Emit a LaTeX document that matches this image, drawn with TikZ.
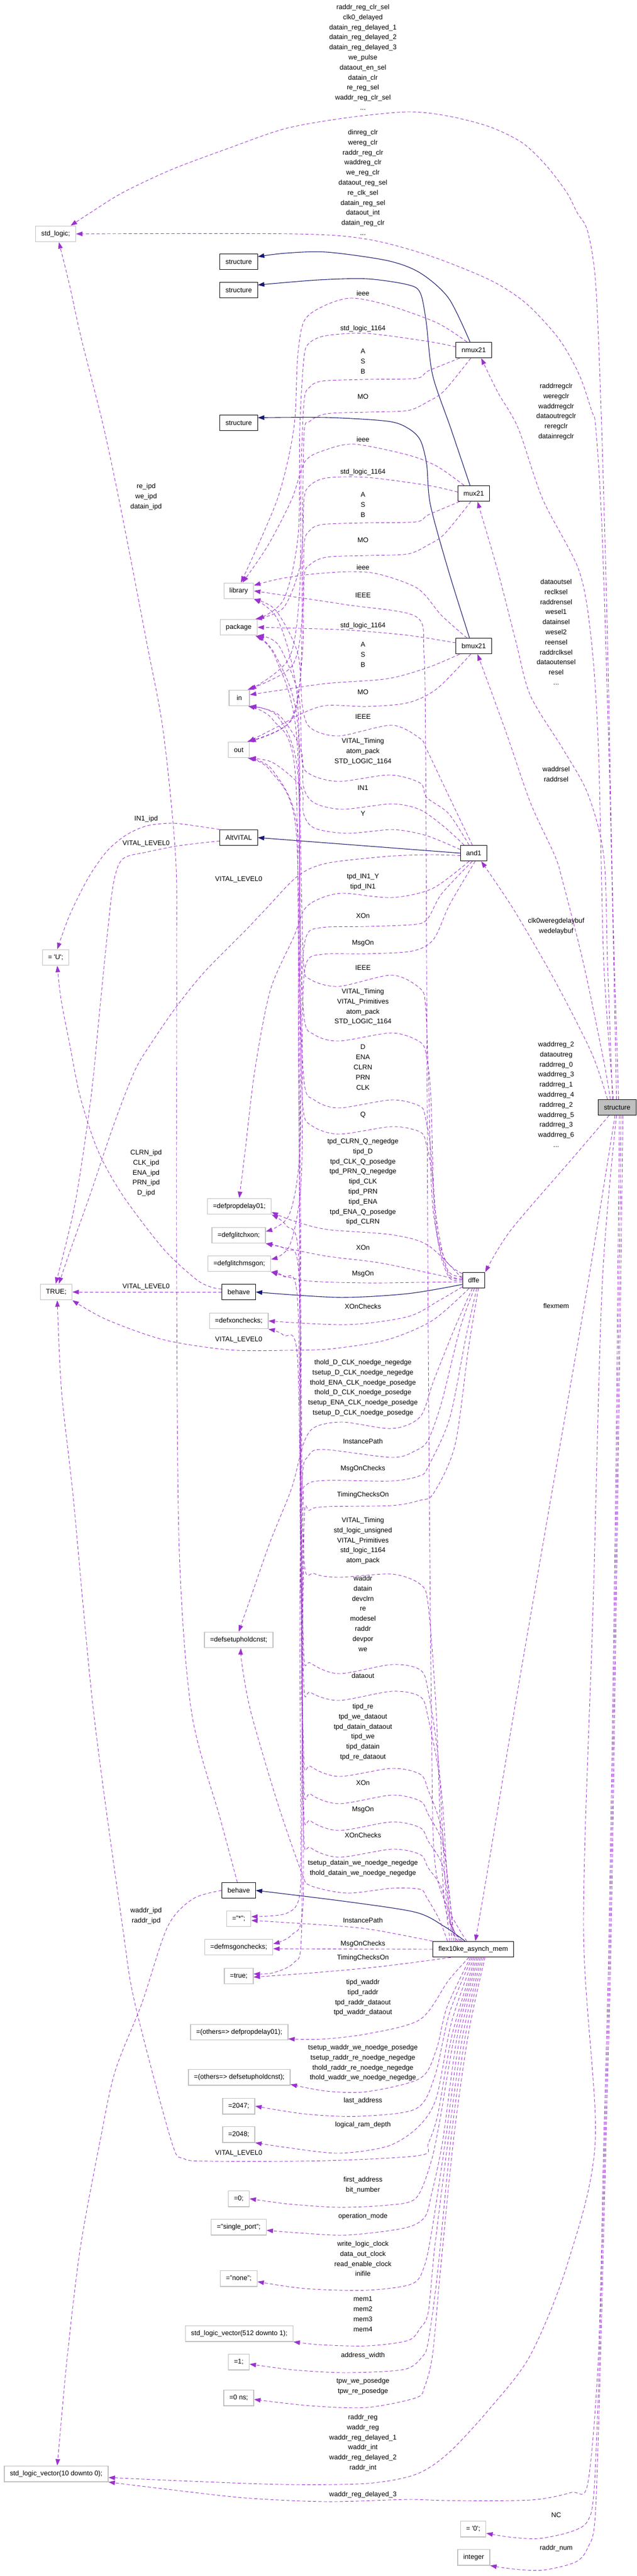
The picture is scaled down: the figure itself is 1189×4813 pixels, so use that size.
\documentclass[tikz,border=0pt]{standalone}
\usepackage{fontspec}
\setmainfont{Liberation Sans}
\usetikzlibrary{arrows.meta}

\definecolor{usecolor}{HTML}{9A32CD}
\definecolor{inhcolor}{HTML}{191970}
\definecolor{undocgray}{HTML}{BFBFBF}

\tikzset{
  every node/.style={font=\fontsize{12.7}{18.8}\selectfont},
  cls/.style={draw=black,fill=white,line width=1pt,minimum height=29.5pt,minimum width=38pt,inner xsep=10.5pt,inner ysep=0pt},
  val/.style={cls,draw=undocgray,line width=1.4pt},
  cur/.style={cls,fill=undocgray},
  elab/.style={align=center,inner sep=0pt,anchor=north,execute at begin node={\rule{0pt}{9.5pt}}},
  dep/.style={usecolor,line width=.9pt,dash pattern=on 6pt off 4pt,-{Triangle[length=12pt,width=8.5pt]}},
  inh/.style={inhcolor,line width=1.1pt,-{Triangle[length=12pt,width=8.5pt]}},
}

\begin{document}
\begin{tikzpicture}[x=1pt,y=-1pt]
  \useasboundingbox (0,0) rectangle (1189,4813);

  % boxes
  \node[val] (std) at (104,437) {std\_logic;};
  \node[cls] (str1) at (446,489) {structure};
  \node[cls] (str2) at (446,542) {structure};
  \node[cls] (nmux) at (885,654) {nmux21};
  \node[cls] (str3) at (446,790) {structure};
  \node[cls] (mux) at (885,922) {mux21};
  \node[val] (lib) at (446,1104) {library};
  \node[val] (pkg) at (446,1172) {package};
  \node[cls] (bmux) at (885,1207) {bmux21};
  \node[val] (portin) at (447,1304) {in};
  \node[val] (portout) at (446,1401) {out};
  \node[cls] (altv) at (446,1565) {AltVITAL};
  \node[cls] (andone) at (885,1594) {and1};
  \node[val] (uval) at (104,1789) {= \textquotesingle U\textquotesingle;};
  \node[cur] (main) at (1153,2069) {structure};
  \node[val] (dprop) at (447,2254) {=defpropdelay01;};
  \node[val] (dgx) at (446,2308) {=defglitchxon;};
  \node[val] (dgm) at (447,2361) {=defglitchmsgon;};
  \node[cls] (dffe) at (885,2392) {dffe};
  \node[val] (truev) at (105,2414) {TRUE;};
  \node[cls] (beh1) at (446,2414) {behave};
  \node[val] (dxc) at (446,2468) {=defxonchecks;};
  \node[val] (dsh) at (446,3064) {=defsetupholdcnst;};
  \node[cls] (beh2) at (446,3532) {behave};
  \node[val] (star) at (446,3585) {="*";};
  \node[val] (dmc) at (446,3638) {=defmsgonchecks;};
  \node[cls] (flex) at (884,3642) {flex10ke\_asynch\_mem};
  \node[val] (trueb) at (446,3692) {=true;};
  \node[val] (opd) at (447,3797) {=(others=> defpropdelay01);};
  \node[val] (osh) at (447,3881) {=(others=> defsetupholdcnst);};
  \node[val] (lastaddr) at (446,3935) {=2047;};
  \node[val] (ramdepth) at (446,3988) {=2048;};
  \node[val] (zero) at (446,4108) {=0;};
  \node[val] (sport) at (446,4161) {="single\_port";};
  \node[val] (none) at (446,4257) {="none";};
  \node[val] (slvbig) at (447,4360) {std\_logic\_vector(512 downto 1);};
  \node[val] (one) at (446,4413) {=1;};
  \node[val] (zerons) at (446,4480) {=0 ns;};
  \node[val] (slvten) at (105,4622) {std\_logic\_vector(10 downto 0);};
  \node[val] (zchar) at (884,4725) {= \textquotesingle 0\textquotesingle;};
  \node[val] (intg) at (885,4778) {integer};

  % labels
  \node[elab] (lsa) at (678,8) {raddr\_reg\_clr\_sel\\clk0\_delayed\\datain\_reg\_delayed\_1\\datain\_reg\_delayed\_2\\datain\_reg\_delayed\_3\\we\_pulse\\dataout\_en\_sel\\datain\_clr\\re\_reg\_sel\\waddr\_reg\_clr\_sel\\...};
  \node[elab] (lsb) at (678,242) {dinreg\_clr\\wereg\_clr\\raddr\_reg\_clr\\waddreg\_clr\\we\_reg\_clr\\dataout\_reg\_sel\\re\_clk\_sel\\datain\_reg\_sel\\dataout\_int\\datain\_reg\_clr\\...};
  \node[elab] (lnlib) at (678,543) {ieee};
  \node[elab] (lnpkg) at (678,608) {std\_logic\_1164};
  \node[elab] (lnin) at (678,652) {A\\S\\B};
  \node[elab] (lnout) at (678,736) {MO};
  \node[elab] (lmlib) at (678,816) {ieee};
  \node[elab] (lmpkg) at (678,876) {std\_logic\_1164};
  \node[elab] (lmin) at (678,920) {A\\S\\B};
  \node[elab] (lmout) at (678,1004) {MO};
  \node[elab] (lblib) at (678,1055) {ieee};
  \node[elab] (lflib) at (678,1107) {IEEE};
  \node[elab] (lbpkg) at (678,1163) {std\_logic\_1164};
  \node[elab] (lbin) at (678,1200) {A\\S\\B};
  \node[elab] (lbout) at (678,1288) {MO};
  \node[elab] (lalib) at (678,1334) {IEEE};
  \node[elab] (lapkg) at (678,1379) {VITAL\_Timing\\atom\_pack\\STD\_LOGIC\_1164};
  \node[elab] (lain) at (678,1467) {IN1};
  \node[elab] (laout) at (678,1515) {Y};
  \node[elab] (laprop) at (678,1632) {tpd\_IN1\_Y\\tipd\_IN1};
  \node[elab] (lagx) at (678,1706) {XOn};
  \node[elab] (lagm) at (678,1756) {MsgOn};
  \node[elab] (ldlib) at (678,1803) {IEEE};
  \node[elab] (ldpkg) at (678,1847) {VITAL\_Timing\\VITAL\_Primitives\\atom\_pack\\STD\_LOGIC\_1164};
  \node[elab] (ldin) at (678,1952) {D\\ENA\\CLRN\\PRN\\CLK};
  \node[elab] (ldout) at (678,2077) {Q};
  \node[elab] (ldprop) at (678,2127) {tpd\_CLRN\_Q\_negedge\\tipd\_D\\tpd\_CLK\_Q\_posedge\\tpd\_PRN\_Q\_negedge\\tipd\_CLK\\tipd\_PRN\\tipd\_ENA\\tpd\_ENA\_Q\_posedge\\tipd\_CLRN};
  \node[elab] (ldgx) at (678,2326) {XOn};
  \node[elab] (ldgm) at (678,2374) {MsgOn};
  \node[elab] (ldxc) at (678,2436) {XOnChecks};
  \node[elab] (ldsh) at (678,2540) {thold\_D\_CLK\_noedge\_negedge\\tsetup\_D\_CLK\_noedge\_negedge\\thold\_ENA\_CLK\_noedge\_posedge\\thold\_D\_CLK\_noedge\_posedge\\tsetup\_ENA\_CLK\_noedge\_posedge\\tsetup\_D\_CLK\_noedge\_posedge};
  \node[elab] (ldstar) at (678,2688) {InstancePath};
  \node[elab] (ldmc) at (678,2738) {MsgOnChecks};
  \node[elab] (ldtc) at (678,2787) {TimingChecksOn};
  \node[elab] (lfpkg) at (678,2835) {VITAL\_Timing\\std\_logic\_unsigned\\VITAL\_Primitives\\std\_logic\_1164\\atom\_pack};
  \node[elab] (lfin) at (678,2944) {waddr\\datain\\devclrn\\re\\modesel\\raddr\\devpor\\we};
  \node[elab] (lfout) at (678,3126) {dataout};
  \node[elab] (lfprop) at (678,3183) {tipd\_re\\tpd\_we\_dataout\\tpd\_datain\_dataout\\tipd\_we\\tipd\_datain\\tpd\_re\_dataout};
  \node[elab] (lfgx) at (678,3326) {XOn};
  \node[elab] (lfgm) at (678,3375) {MsgOn};
  \node[elab] (lfxc) at (678,3424) {XOnChecks};
  \node[elab] (lfsh) at (678,3475) {tsetup\_datain\_we\_noedge\_negedge\\thold\_datain\_we\_noedge\_negedge};
  \node[elab] (lfstar) at (678,3583) {InstancePath};
  \node[elab] (lfmc) at (678,3626) {MsgOnChecks};
  \node[elab] (lftc) at (678,3652) {TimingChecksOn};
  \node[elab] (lfopd) at (678,3698) {tipd\_waddr\\tipd\_raddr\\tpd\_raddr\_dataout\\tpd\_waddr\_dataout};
  \node[elab] (lfosh) at (678,3820) {tsetup\_waddr\_we\_noedge\_posedge\\tsetup\_raddr\_re\_noedge\_negedge\\thold\_raddr\_re\_noedge\_negedge\\thold\_waddr\_we\_noedge\_negedge};
  \node[elab] (lflast) at (678,3919) {last\_address};
  \node[elab] (lfdepth) at (678,3964) {logical\_ram\_depth};
  \node[elab] (lfzero) at (678,4067) {first\_address\\bit\_number};
  \node[elab] (lfmode) at (678,4135) {operation\_mode};
  \node[elab] (lfnone) at (678,4187) {write\_logic\_clock\\data\_out\_clock\\read\_enable\_clock\\inifile};
  \node[elab] (lfmem) at (678,4291) {mem1\\mem2\\mem3\\mem4};
  \node[elab] (lfone) at (678,4395) {address\_width};
  \node[elab] (lftpw) at (678,4443) {tpw\_we\_posedge\\tpw\_re\_posedge};
  \node[elab] (lsreg) at (678,4511) {raddr\_reg\\waddr\_reg\\waddr\_reg\_delayed\_1\\waddr\_int\\waddr\_reg\_delayed\_2\\raddr\_int};
  \node[elab] (lsdel) at (678,4655) {waddr\_reg\_delayed\_3};
  \node[elab] (latrue) at (446,1637) {VITAL\_LEVEL0};
  \node[elab] (ldtrue) at (446,2497) {VITAL\_LEVEL0};
  \node[elab] (lftrue) at (446,4017) {VITAL\_LEVEL0};
  \node[elab] (lbstd) at (273,903) {re\_ipd\\we\_ipd\\datain\_ipd};
  \node[elab] (lvu) at (273,1524) {IN1\_ipd};
  \node[elab] (lvtrue) at (273,1570) {VITAL\_LEVEL0};
  \node[elab] (lbu) at (273,2148) {CLRN\_ipd\\CLK\_ipd\\ENA\_ipd\\PRN\_ipd\\D\_ipd};
  \node[elab] (lbtrue) at (273,2398) {VITAL\_LEVEL0};
  \node[elab] (lbslv) at (273,3564) {waddr\_ipd\\raddr\_ipd};
  \node[elab] (lsnmux) at (1039,716) {raddrregclr\\weregclr\\waddrregclr\\dataoutregclr\\reregclr\\datainregclr};
  \node[elab] (lsmux) at (1039,1082) {dataoutsel\\reclksel\\raddrensel\\wesel1\\datainsel\\wesel2\\reensel\\raddrclksel\\dataoutensel\\resel\\...};
  \node[elab] (lsbmux) at (1039,1432) {waddrsel\\raddrsel};
  \node[elab] (lsand) at (1039,1715) {clk0weregdelaybuf\\wedelaybuf};
  \node[elab] (lsdffe) at (1039,1946) {waddrreg\_2\\dataoutreg\\raddrreg\_0\\waddrreg\_3\\raddrreg\_1\\waddrreg\_4\\raddrreg\_2\\waddrreg\_5\\raddrreg\_3\\waddrreg\_6\\...};
  \node[elab] (lsflex) at (1039,2435) {flexmem};
  \node[elab] (lsnc) at (1039,4694) {NC};
  \node[elab] (lsnum) at (1039,4755) {raddr\_num};

  % inheritance
  \draw[inh] plot[smooth] coordinates {([xshift=-7pt]nmux.north) (838,557) (785,510) (724,487) (610,471) (534,473) (str1.15)};
  \draw[inh] plot[smooth] coordinates {([xshift=-7pt]mux.north) (842,800) (808,700) (796,600) (785,547) (762,532) (686,521) (595,523) (str2.15)};
  \draw[inh] plot[smooth] coordinates {([xshift=-8pt]bmux.north) (838,1067) (804,943) (797,867) (785,822) (762,800) (724,787) (610,780) (str3.15)};
  \draw[inh] (andone.west) -- (altv.east);
  \draw[inh] plot[smooth] coordinates {(dffe.-160) (762,2417) (633,2424) (beh1.east)};
  \draw[inh] plot[smooth] coordinates {(flex.135) (831,3600) (777,3573) (648,3553) (beh2.east)};

  % structure
  \draw[dep] plot[smooth] coordinates {(main.80) (1145,1700) (1135,1200) (1124,800) (1113,533) (1098,433) (1078,397) (1059,360) (1021,310) (976,267) (915,237) (838,217) (762,209) (648,220) (534,240) (427,277) (320,317) (229,360) (168,398) ([xshift=-10pt]std.north east)};
  \draw[dep] plot[smooth] coordinates {(main.95) (1140,1500) (1125,1000) (1113,800) (1105,767) (1082,700) (1044,633) (983,567) (915,523) (800,477) (686,447) (550,437) (std.east)};
  \draw[dep] plot[smooth] coordinates {(main.115) (1128,1800) (1118,1400) (1105,1200) (1082,1067) (1014,933) (968,800) (930,733) ([xshift=14pt]nmux.south)};
  \draw[dep] plot[smooth] coordinates {(main.120) (1135,1800) (1128,1600) (1098,1483) (1052,1400) (991,1300) (964,1200) (930,1067) ([xshift=7pt]mux.south)};
  \draw[dep] plot[smooth] coordinates {(main.130) (1128,1983) (1090,1800) (1052,1650) (1037,1600) (991,1500) (945,1367) ([xshift=7pt]bmux.south)};
  \draw[dep] plot[smooth] coordinates {(main.140) (1105,1967) (1037,1833) (960,1700) ([xshift=14pt]andone.south)};
  \draw[dep] plot[smooth] coordinates {(main.-135) (1067,2167) (953,2300) (dffe.north east)};
  \draw[dep] plot[smooth] coordinates {(main.-105) (1098,2400) (1029,2800) (960,3200) (910,3500) ([xshift=4pt]flex.north)};
  \draw[dep] plot[smooth] coordinates {(main.-95) (1125,2400) (1108,3000) (1090,3600) (1112,4000) (1060,4230) (991,4400) (915,4500) (838,4583) (777,4623) (686,4640) (533,4642) (360,4636) ([yshift=-7pt]slvten.east)};
  \draw[dep] plot[smooth] coordinates {(main.-75) (1150,2800) (1138,3600) (1128,4000) (1118,4400) (1098,4640) (1067,4657) (991,4671) (838,4672) (762,4670) (610,4674) (457,4667) (305,4650) (slvten.south east)};
  \draw[dep] plot[smooth] coordinates {(main.-65) (1152,2800) (1140,3600) (1130,4000) (1120,4400) (1110,4650) (1098,4710) (1067,4730) (1006,4743) (950,4740) ([yshift=-8pt]zchar.east)};
  \draw[dep] plot[smooth] coordinates {(main.-55) (1154,2800) (1142,3600) (1132,4000) (1122,4400) (1112,4700) (1098,4760) (1075,4787) (1014,4802) (960,4800) (intg.south east)};

  % nmux21, mux21, bmux21
  \draw[dep] plot[smooth] coordinates {(nmux.130) (816,603) (724,570) (655,557) (602,573) (568,600) (556,667) (549,800) (518,933) ([xshift=4pt]lib.north)};
  \draw[dep] plot[smooth] coordinates {(nmux.170) (800,638) (686,623) (610,627) (579,640) (568,667) (560,800) (557,1000) (530,1120) (pkg.north east)};
  \draw[dep] plot[smooth] coordinates {(nmux.-150) (800,693) (777,707) (678,709) (602,712) (579,723) (568,750) (562,900) (560,1100) (540,1230) (portin.north east)};
  \draw[dep] plot[smooth] coordinates {(nmux.-110) (830,730) (800,750) (762,767) (686,770) (610,773) (579,787) (568,810) (565,1000) (562,1250) (540,1350) (portout.north east)};
  \draw[dep] plot[smooth] coordinates {(mux.140) (816,871) (762,850) (663,830) (610,840) (570,862) (545,933) (500,1020) ([xshift=7pt]lib.north)};
  \draw[dep] plot[smooth] coordinates {(mux.175) (800,907) (686,892) (610,893) (579,907) (568,933) (562,1050) (530,1135) ([xshift=-4pt]pkg.north east)};
  \draw[dep] plot[smooth] coordinates {(mux.-150) (800,962) (777,975) (678,977) (602,980) (579,991) (568,1018) (565,1150) (545,1245) ([xshift=-4pt]portin.north east)};
  \draw[dep] plot[smooth] coordinates {(mux.-110) (830,998) (800,1018) (762,1035) (686,1038) (610,1041) (579,1055) (568,1080) (565,1220) (545,1345) ([xshift=-4pt]portout.north east)};
  \draw[dep] plot[smooth] coordinates {(bmux.130) (825,1150) (781,1100) (709,1073) (655,1068) (580,1073) (520,1082) (lib.20)};
  \draw[dep] plot[smooth] coordinates {(bmux.170) (762,1187) (648,1177) (560,1174) (pkg.east)};
  \draw[dep] plot[smooth] coordinates {(bmux.-150) (800,1247) (724,1268) (610,1277) (520,1290) ([yshift=6pt]portin.east)};
  \draw[dep] plot[smooth] coordinates {(bmux.-110) (816,1287) (762,1313) (686,1320) (610,1318) (564,1333) (520,1357) ([xshift=-2pt]portout.north east)};

  % and1, AltVITAL
  \draw[dep] plot[smooth] coordinates {(andone.100) (835,1480) (797,1400) (785,1380) (732,1355) (633,1375) (580,1360) (565,1320) (556,1220) (515,1140) (lib.south east)};
  \draw[dep] plot[smooth] coordinates {(andone.120) (838,1520) (797,1490) (785,1463) (728,1448) (633,1460) (580,1447) (564,1420) (558,1300) (520,1205) (pkg.south east)};
  \draw[dep] plot[smooth] coordinates {(andone.140) (830,1545) (785,1513) (732,1502) (640,1512) (587,1500) (567,1470) (562,1400) (520,1335) (portin.south east)};
  \draw[dep] plot[smooth] coordinates {(andone.165) (820,1570) (785,1558) (732,1550) (648,1557) (587,1547) (567,1520) (562,1470) (510,1425) (portout.south east)};
  \draw[dep] plot[smooth] coordinates {(andone.-170) (800,1597) (724,1600) (610,1613) (556,1637) (495,1700) (457,1740) (381,1817) (328,1883) (282,1950) (252,2000) (213,2100) (168,2233) (130,2340) ([xshift=5pt]truev.north)};
  \draw[dep] plot[smooth] coordinates {(andone.-120) (808,1660) (732,1677) (640,1669) (595,1680) (568,1700) (549,1750) (505,1850) (476,2000) (458,2150) (dprop.north)};
  \draw[dep] plot[smooth] coordinates {(andone.-100) (825,1670) (800,1715) (777,1727) (686,1731) (602,1733) (572,1750) (563,1850) (560,2150) (540,2270) ([yshift=7pt]dgx.east)};
  \draw[dep] plot[smooth] coordinates {(andone.-80) (840,1690) (810,1755) (770,1777) (686,1782) (602,1783) (572,1800) (565,1900) (563,2200) (542,2325) ([yshift=8pt]dgm.east)};
  \draw[dep] plot[smooth] coordinates {(altv.north west) (358,1542) (320,1538) (274,1543) (236,1560) (200,1590) (165,1640) (130,1710) ([xshift=3pt]uval.north)};
  \draw[dep] plot[smooth] coordinates {(altv.-170) (335,1580) (274,1592) (229,1605) (212,1650) (200,1750) (185,1900) (170,2050) (140,2250) ([xshift=-1pt]truev.north)};

  % dffe, behave
  \draw[dep] plot[smooth] coordinates {(dffe.150) (830,2350) (808,2250) (800,2000) (795,1880) (785,1847) (732,1822) (633,1843) (580,1830) (567,1800) (562,1600) (555,1300) (520,1160) (lib.south east)};
  \draw[dep] plot[smooth] coordinates {(dffe.160) (835,2370) (812,2250) (805,2050) (797,1975) (785,1947) (732,1930) (633,1945) (587,1933) (568,1900) (560,1700) (556,1350) (515,1225) (pkg.south east)};
  \draw[dep] plot[smooth] coordinates {(dffe.168) (838,2380) (815,2300) (805,2150) (795,2090) (785,2067) (732,2055) (633,2070) (587,2055) (568,2020) (559,1800) (557,1450) (520,1340) (portin.south east)};
  \draw[dep] plot[smooth] coordinates {(dffe.175) (840,2388) (820,2330) (808,2200) (797,2140) (785,2115) (732,2105) (633,2119) (582,2103) (566,2070) (561,1900) (556,1550) (510,1440) (portout.south east)};
  \draw[dep] plot[smooth] coordinates {(dffe.172) (800,2327) (732,2307) (610,2297) (545,2280) (dprop.-10)};
  \draw[dep] plot[smooth] coordinates {(dffe.west) (762,2370) (700,2358) (610,2347) (540,2333) (dgx.south east)};
  \draw[dep] plot[smooth] coordinates {(dffe.-172) (780,2396) (686,2397) (572,2393) (dgm.south east)};
  \draw[dep] plot[smooth] coordinates {(dffe.-150) (820,2430) (762,2460) (648,2475) (dxc.east)};
  \draw[dep] plot[smooth] coordinates {(dffe.-120) (808,2467) (724,2503) (620,2520) (534,2523) (427,2522) (305,2503) (198,2465) (truev.south east)};
  \draw[dep] plot[smooth] coordinates {(dffe.-100) (850,2480) (810,2580) (785,2647) (732,2669) (640,2657) (587,2667) (566,2700) (545,2780) (505,2880) (470,2980) (dsh.north)};
  \draw[dep] plot[smooth] coordinates {(dffe.-85) (860,2480) (825,2620) (800,2690) (777,2710) (732,2723) (602,2708) (575,2722) (565,2760) (560,3000) (562,3400) (560,3540) (535,3575) ([yshift=4pt]star.east)};
  \draw[dep] plot[smooth] coordinates {(dffe.-70) (870,2500) (840,2650) (800,2740) (785,2757) (732,2767) (610,2766) (572,2775) (566,2820) (565,3200) (566,3560) (545,3615) ([yshift=6pt]dmc.east)};
  \draw[dep] plot[smooth] coordinates {(dffe.-60) (875,2520) (850,2700) (810,2790) (785,2803) (732,2813) (610,2815) (578,2822) (568,2850) (564,3300) (563,3620) (549,3667) (510,3686) ([yshift=4pt]trueb.east)};
  \draw[dep] plot[smooth] coordinates {(beh1.170) (395,2405) (366,2390) (305,2333) (229,2233) (183,2150) (150,2050) (130,1950) (114,1867) ([xshift=3pt]uval.south)};
  \draw[dep] (beh1.west) -- (truev.east);
  \draw[dep] plot[smooth] coordinates {(beh2.100) (412,3400) (358,3200) (335,2900) (330,2400) (330,1800) (328,1600) (305,1367) (274,1200) (229,967) (194,800) (152,633) (130,533) ([xshift=6pt]std.south)};
  \draw[dep] plot[smooth] coordinates {(beh2.west) (360,3548) (313,3600) (265,3743) (215,3870) (187,4000) (150,4200) (126,4400) (112,4550) ([xshift=2pt]slvten.north)};

  % flex10ke_asynch_mem
  \draw[dep] plot[smooth] coordinates {([xshift=-12pt]flex.north) (815,3500) (806,3200) (800,2500) (797,1800) (795,1400) (792,1220) (777,1152) (648,1130) (lib.east)};
  \draw[dep] plot[smooth] coordinates {([xshift=-20pt]flex.north) (830,3550) (815,3200) (800,3000) (785,2960) (732,2941) (633,2947) (587,2940) (568,2915) (563,2600) (560,2000) (556,1400) (515,1230) ([xshift=-4pt]pkg.south east)};
  \draw[dep] plot[smooth] coordinates {([xshift=-24pt]flex.north) (835,3560) (820,3300) (800,3160) (785,3120) (732,3110) (633,3127) (580,3107) (567,3080) (562,2700) (558,2000) (552,1450) (510,1345) ([xshift=-3pt]portin.south east)};
  \draw[dep] plot[smooth] coordinates {([xshift=-28pt]flex.north) (840,3580) (825,3350) (800,3210) (785,3170) (732,3160) (633,3177) (580,3162) (567,3135) (562,2700) (558,2000) (553,1550) (505,1440) ([xshift=-3pt]portout.south east)};
  \draw[dep] plot[smooth] coordinates {([xshift=-32pt]flex.north) (845,3590) (825,3420) (800,3345) (785,3315) (732,3304) (633,3319) (580,3300) (567,3270) (562,2800) (558,2350) (535,2290) (dprop.south east)};
  \draw[dep] plot[smooth] coordinates {([xshift=-36pt]flex.north) (845,3595) (828,3450) (800,3390) (785,3365) (732,3354) (633,3370) (580,3352) (567,3320) (562,2800) (558,2380) (535,2335) (dgx.south east)};
  \draw[dep] plot[smooth] coordinates {([xshift=-40pt]flex.north) (842,3600) (828,3490) (800,3440) (785,3415) (732,3404) (633,3420) (580,3402) (567,3370) (562,2900) (556,2430) (530,2385) (dgm.south east)};
  \draw[dep] plot[smooth] coordinates {([xshift=-44pt]flex.north) (838,3605) (826,3530) (800,3490) (785,3465) (732,3455) (633,3470) (580,3452) (567,3420) (562,3000) (556,2540) (530,2495) (dxc.south east)};
  \draw[dep] plot[smooth] coordinates {([xshift=-48pt]flex.north) (820,3585) (797,3545) (785,3530) (732,3528) (648,3537) (580,3523) (564,3500) (518,3367) (469,3200) (452,3110) ([xshift=4pt]dsh.south)};
  \draw[dep] plot[smooth] coordinates {(flex.north west) (700,3606) (625,3598) ([yshift=-3pt]star.east)};
  \draw[dep] (flex.west) -- ([yshift=-3pt]dmc.east);
  \draw[dep] plot[smooth] coordinates {(flex.-160) (762,3668) (686,3677) (572,3687) ([yshift=-2pt]trueb.east)};
  \draw[dep] plot[smooth] coordinates {([xshift=-8pt]flex.south) (838,3700) (785,3773) (686,3800) (600,3810) ([yshift=3pt]opd.south east)};
  \draw[dep] plot[smooth] coordinates {([xshift=-5pt]flex.south) (835,3750) (815,3830) (785,3883) (686,3908) (610,3907) ([yshift=2pt]osh.south east)};
  \draw[dep] plot[smooth] coordinates {([xshift=-2pt]flex.south) (840,3760) (812,3880) (777,3940) (671,3954) (572,3950) (lastaddr.east)};
  \draw[dep] plot[smooth] coordinates {([xshift=1pt]flex.south) (843,3780) (815,3920) (780,3975) (724,4010) (633,4023) (540,4013) (ramdepth.south east)};
  \draw[dep] plot[smooth] coordinates {([xshift=4pt]flex.south) (845,3800) (818,3950) (800,4005) (785,4027) (610,4037) (396,4038) (343,4033) (320,4000) (252,3743) (229,3600) (175,3200) (137,2800) (115,2600) ([xshift=2pt]truev.south)};
  \draw[dep] plot[smooth] coordinates {([xshift=7pt]flex.south) (850,3800) (822,3960) (805,4040) (777,4107) (724,4120) (633,4124) (540,4118) (zero.east)};
  \draw[dep] plot[smooth] coordinates {([xshift=10pt]flex.south) (855,3800) (827,4000) (806,4100) (793,4143) (755,4163) (648,4176) (560,4172) ([yshift=-6pt]sport.east)};
  \draw[dep] plot[smooth] coordinates {([xshift=13pt]flex.south) (860,3800) (832,4000) (808,4160) (793,4233) (770,4267) (686,4279) (570,4276) ([yshift=-6pt]none.east)};
  \draw[dep] plot[smooth] coordinates {([xshift=16pt]flex.south) (865,3800) (837,4000) (812,4200) (800,4320) (785,4350) (762,4373) (686,4383) (600,4381) (slvbig.south east)};
  \draw[dep] plot[smooth] coordinates {([xshift=19pt]flex.south) (870,3800) (842,4000) (817,4250) (800,4375) (789,4403) (755,4427) (648,4433) (550,4428) ([yshift=-4pt]one.east)};
  \draw[dep] plot[smooth] coordinates {([xshift=22pt]flex.south) (875,3800) (847,4000) (822,4250) (808,4400) (793,4460) (777,4480) (686,4498) (580,4495) ([yshift=-3pt]zerons.east)};
\end{tikzpicture}
\end{document}
